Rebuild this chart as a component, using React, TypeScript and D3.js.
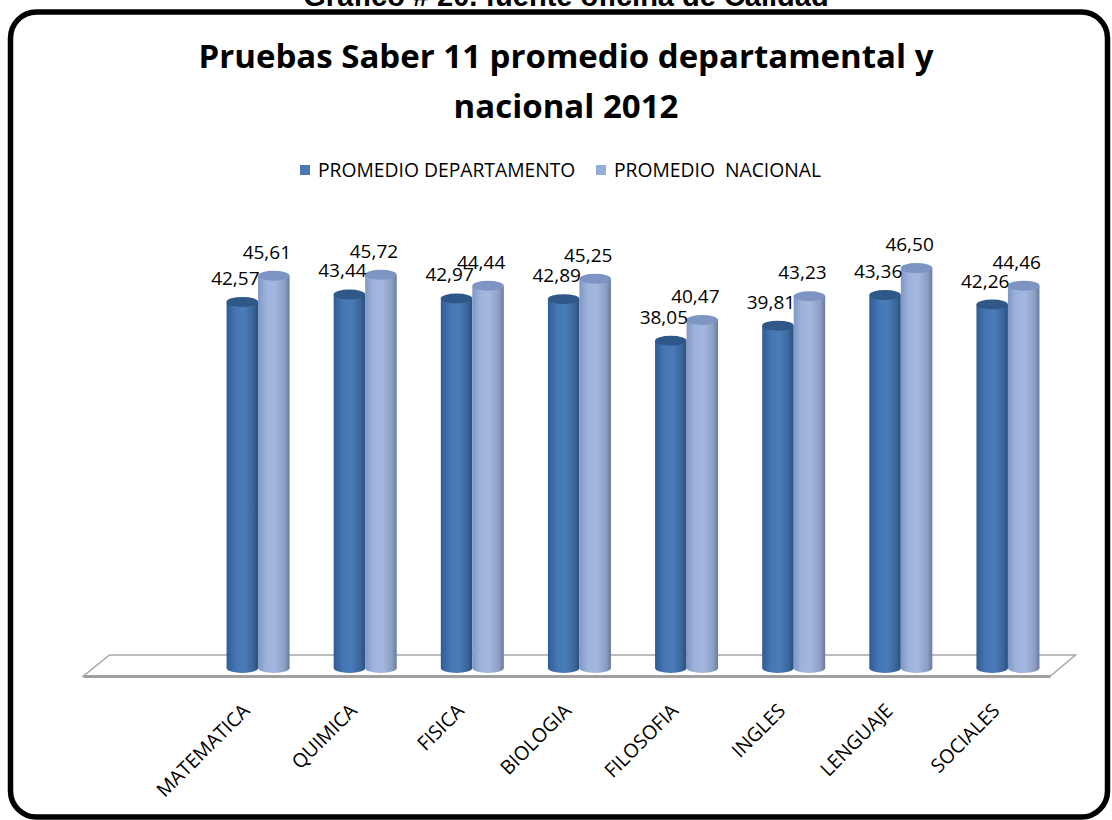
import React from "react";
import * as d3 from "d3";

const categories = ["MATEMATICA", "QUIMICA", "FISICA", "BIOLOGIA", "FILOSOFIA", "INGLES", "LENGUAJE", "SOCIALES"];
const deptValues = [42.57, 43.44, 42.97, 42.89, 38.05, 39.81, 43.36, 42.26];
const natValues = [45.61, 45.72, 44.44, 45.25, 40.47, 43.23, 46.5, 44.46];
const seriesNames = ["PROMEDIO DEPARTAMENTO", "PROMEDIO  NACIONAL"];
const titleLines = ["Pruebas Saber 11 promedio departamental y", "nacional 2012"];
const topCaption = "Gráfico # 20. fuente oficina de Calidad";

const W = 1112;
const H = 820;
const FONT = "'Open Sans', sans-serif";

export default function App() {
  const x = d3.scaleBand<string>().domain(categories).range([204.5, 1061.5]).paddingInner(0);
  const xi = d3.scaleBand<string>().domain(["dept", "nat"]).range([-31.5, 31.5]).padding(0);
  const y = d3.scaleLinear().domain([0, 50]).range([668, 238]);
  const fmt = (v: number) => d3.format(".2f")(v).replace(".", ",");
  const rx = xi.bandwidth() / 2;
  const ry = 5;
  const base = y(0);

  const series = [
    { key: "dept", values: deptValues, grad: "gDept", top: "#2F5888", legend: "#4A77B0" },
    { key: "nat", values: natValues, grad: "gNat", top: "#7E95C3", legend: "#95ADD8" },
  ];

  const floorL = x.range()[0] - 120;
  const floorR = x.range()[1] - 12;

  return (
    <svg width={W} height={H} style={{ position: "absolute", left: 0, top: 0, background: "#fff" }}>
      <defs>
        <linearGradient id="gDept" x1="0" x2="1" y1="0" y2="0">
          <stop offset="0" stopColor="#2F5C95" />
          <stop offset="0.3" stopColor="#4677B5" />
          <stop offset="0.55" stopColor="#4B7CBA" />
          <stop offset="0.85" stopColor="#3A6599" />
          <stop offset="1" stopColor="#2A4E7E" />
        </linearGradient>
        <linearGradient id="gNat" x1="0" x2="1" y1="0" y2="0">
          <stop offset="0" stopColor="#7F97C4" />
          <stop offset="0.25" stopColor="#9DB3DC" />
          <stop offset="0.55" stopColor="#A3B8DF" />
          <stop offset="0.85" stopColor="#8B9DC2" />
          <stop offset="1" stopColor="#6A7A9C" />
        </linearGradient>
      </defs>

      <text x={W / 2 + 10} y={6} textAnchor="middle" fontFamily="'Liberation Sans', Arial, sans-serif" fontWeight="bold" fontSize={29} fill="#000">
        {topCaption}
      </text>

      <rect x={10.5} y={12} width={1097} height={805} rx={26} fill="#fff" stroke="#000" strokeWidth={5.5} />

      {titleLines.map((t, i) => (
        <text key={i} x={W / 2 + 10} y={68 + i * 50} textAnchor="middle" fontFamily={FONT} fontWeight="bold" fontSize={33} fill="#000">
          {t}
        </text>
      ))}

      {seriesNames.map((s, i) => {
        const lx = i === 0 ? 300 : 596;
        return (
          <g key={s}>
            <rect x={lx} y={165} width={10} height={10} fill={series[i].legend} />
            <text x={lx + 18} y={177} fontFamily={FONT} fontSize={19.3} fill="#000" style={{ whiteSpace: "pre" }}>
              {s}
            </text>
          </g>
        );
      })}

      <polygon
        points={`${floorL - 1},${base + 8} ${floorR + 1},${base + 8} ${floorR + 26},${base - 13} ${floorL + 25},${base - 13}`}
        fill="#fff"
        stroke="#A6A6A6"
        strokeWidth={1.5}
      />
      <line x1={floorL - 1} x2={floorR + 1} y1={base + 8.5} y2={base + 8.5} stroke="#A0A0A0" strokeWidth={3} />

      {categories.map((c, ci) =>
        series.map((s) => {
          const cx = (x(c) as number) + x.bandwidth() / 2 + (xi(s.key) as number) + rx;
          const ty = y(s.values[ci]);
          return (
            <g key={c + s.key}>
              <ellipse cx={cx} cy={base} rx={rx} ry={ry} fill={`url(#${s.grad})`} />
              <rect x={cx - rx} y={ty} width={rx * 2} height={base - ty} fill={`url(#${s.grad})`} />
              <ellipse cx={cx} cy={ty} rx={rx} ry={ry} fill={s.top} />
            </g>
          );
        })
      )}

      {categories.map((c, ci) =>
        series.map((s) => {
          const cx = (x(c) as number) + x.bandwidth() / 2 + (xi(s.key) as number) + rx;
          const ty = y(s.values[ci]);
          return (
            <text key={"l" + c + s.key} x={cx - 7} y={ty - 17} textAnchor="middle" fontFamily={FONT} fontSize={19} fill="#000">
              {fmt(s.values[ci])}
            </text>
          );
        })
      )}

      {categories.map((c) => {
        const cx = (x(c) as number) + x.bandwidth() / 2;
        return (
          <text key={"c" + c} transform={`translate(${cx - 7},${712}) rotate(-45)`} textAnchor="end" fontFamily={FONT} fontSize={19.5} fill="#000">
            {c}
          </text>
        );
      })}
    </svg>
  );
}
